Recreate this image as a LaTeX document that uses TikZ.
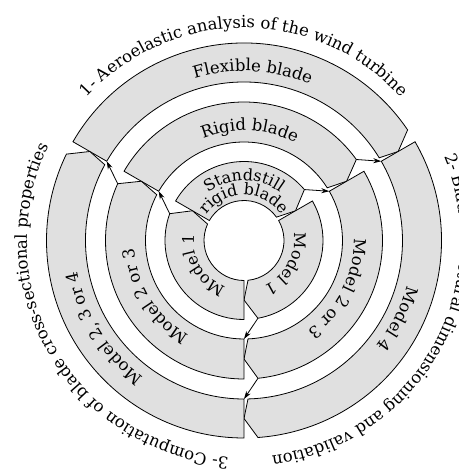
\documentclass[tikz,border=0pt]{standalone}
\usepackage{fontspec}
\setmainfont{DejaVu Serif}
\usetikzlibrary{decorations.text,arrows.meta}
\tikzset{
  seg/.style={draw=black, fill={rgb,255:red,224;green,224;blue,224}, line width=0.8pt, line join=miter},
  link/.style={draw=black, line width=0.8pt, -{Stealth[length=8pt,width=5pt]}},
}
% #1 start angle, #2 end angle (clockwise), #3 inner radius, #4 outer radius, #5 name
\newcommand{\drawSeg}[5]{%
  \pgfmathsetmacro{\segmid}{(#3+#4)/2}%
  \pgfmathsetmacro{\segdout}{#2+14/#4*180/pi}%
  \pgfmathsetmacro{\segdin}{#2+4/#3*180/pi}%
  \draw[seg] (#1:#4pt) arc[start angle=#1, end angle=\segdout, radius=#4pt]
    -- (#2:\segmid pt) -- (\segdin:#3pt)
    arc[start angle=\segdin, end angle=#1, radius=#3pt] -- cycle;
  \coordinate (#5-oc) at (\segdout:#4pt);
  \coordinate (#5-si) at (#1:#3pt);
}
% #1 centre angle, #2 radius, #3 font size, #4 text (clockwise path, 160 deg long)
\newcommand{\arcText}[4]{%
  \path[decorate, decoration={text along path, text align=center,
    text={|\fontsize{#3pt}{#3pt}\selectfont|#4}}]
    (#1+80:#2pt) arc[start angle=#1+80, end angle=#1-80, radius=#2pt];
}
\begin{document}
\begin{tikzpicture}
\useasboundingbox (-244pt,-233.5pt) rectangle (214pt,240.5pt);
% ring 3
\drawSeg{150}{30}{158.5}{197.5}{r3a}
\drawSeg{30}{-90}{158.5}{197.5}{r3b}
\drawSeg{270}{150}{158.5}{197.5}{r3c}
% ring 2
\drawSeg{150}{30}{98.5}{138.5}{r2a}
\drawSeg{30}{-90}{98.5}{138.5}{r2b}
\drawSeg{270}{150}{98.5}{138.5}{r2c}
% ring 1
\drawSeg{150}{30}{40}{79}{r1a}
\drawSeg{30}{-90}{40}{79}{r1b}
\drawSeg{270}{150}{40}{79}{r1c}
% links
\draw[link] (r1a-oc) -- (r2b-si);
\draw[link] (r1b-oc) -- (r2c-si);
\draw[link] (r1c-oc) -- (r2a-si);
\draw[link] (r2a-oc) -- (r3b-si);
\draw[link] (r2b-oc) -- (r3c-si);
\draw[link] (r2c-oc) -- (r3a-si);
% ring labels
\arcText{87}{169.5}{16.5}{Flexible blade}
\arcText{-27}{169.5}{16.5}{Model 4}
\arcText{212}{169.5}{16.5}{Model 2{,} 3 or 4}
\arcText{87}{110}{16.5}{Rigid blade}
\arcText{-27}{110}{16.5}{Model 2 or 3}
\arcText{212}{110}{16.5}{Model 2 or 3}
\arcText{90}{60}{16}{Standstill}
\arcText{90}{45.5}{16}{rigid blade}
\arcText{-29}{50}{16}{Model 1}
\arcText{211}{50}{16}{Model 1}
% outer titles
\arcText{90}{212.5}{16.5}{1- Aeroelastic analysis of the wind turbine}
\arcText{-30}{217}{16.5}{2- Blade structural dimensioning and validation}
\arcText{210}{217}{16.5}{3- Computation of blade cross-sectional properties}
\end{tikzpicture}
\end{document}
